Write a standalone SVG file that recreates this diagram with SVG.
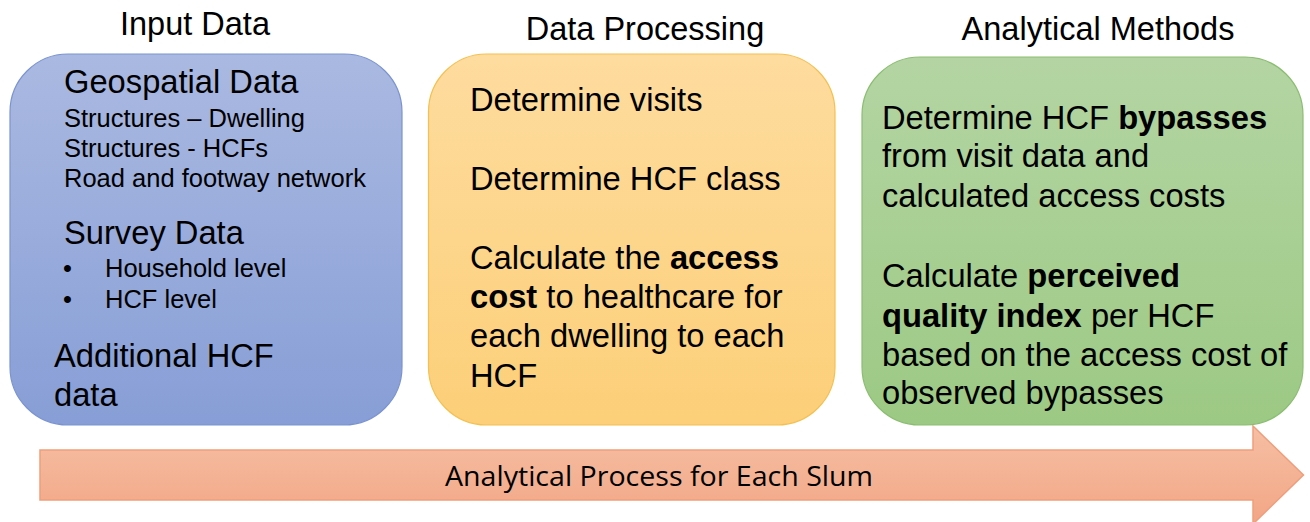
<svg xmlns="http://www.w3.org/2000/svg" width="1310" height="522" viewBox="0 0 1310 522">
<defs>
<linearGradient id="gBlue" x1="0" y1="0" x2="0" y2="1"><stop offset="0" stop-color="#aab9e1"/><stop offset="1" stop-color="#879ed6"/></linearGradient>
<linearGradient id="gOrange" x1="0" y1="0" x2="0" y2="1"><stop offset="0" stop-color="#fedc9f"/><stop offset="1" stop-color="#fccf78"/></linearGradient>
<linearGradient id="gGreen" x1="0" y1="0" x2="0" y2="1"><stop offset="0" stop-color="#b4d5a3"/><stop offset="1" stop-color="#9cc984"/></linearGradient>
<linearGradient id="gArrow" x1="0" y1="0" x2="0" y2="1"><stop offset="0" stop-color="#f6bfa4"/><stop offset="1" stop-color="#f2a685"/></linearGradient>
</defs>
<style>
text{font-family:"Liberation Sans",Arial,sans-serif;fill:#000}
.h{font-size:32.5px;text-anchor:middle}
.big{font-size:32.7px}
.sm{font-size:25.5px}
.b{font-weight:bold}
</style>
<rect width="1310" height="522" fill="#fff"/>
<g id="connectors">
<path d="M40 450 H1253 V426 L1303.5 475 L1253 524 V500 H40 Z" fill="url(#gArrow)" stroke="#ef9e7b" stroke-width="1.5"/>
<text x="659" y="486" style="font-family:'Open Sans',sans-serif;font-size:27px" text-anchor="middle" textLength="428" lengthAdjust="spacingAndGlyphs">Analytical Process for Each Slum</text>
</g>
<g id="input-data">
<text class="h" x="195" y="35">Input Data</text>
<rect x="10" y="54" width="392" height="371" rx="58" ry="58" fill="url(#gBlue)" stroke="#7a93d0" stroke-width="1.2"/>
<text class="big" x="64" y="93">Geospatial Data</text>
<text class="sm" x="64" y="127">Structures – Dwelling</text>
<text class="sm" x="64" y="157">Structures - HCFs</text>
<text class="sm" x="64" y="187">Road and footway network</text>
<text class="big" x="64" y="244">Survey Data</text>
<text class="sm" x="63" y="277">•</text>
<text class="sm" x="105" y="277">Household level</text>
<text class="sm" x="63" y="308">•</text>
<text class="sm" x="105" y="308">HCF level</text>
<text class="big" x="54" y="367">Additional HCF</text>
<text class="big" x="54" y="406">data</text>
</g>
<g id="data-processing">
<text class="h" x="645" y="39.5">Data Processing</text>
<rect x="428.5" y="54" width="406.5" height="371" rx="58" ry="58" fill="url(#gOrange)" stroke="#f4c04f" stroke-width="1.2"/>
<text class="big" x="470" y="111">Determine visits</text>
<text class="big" x="470" y="190">Determine HCF class</text>
<text class="big" x="470" y="269">Calculate the <tspan class="b">access</tspan></text>
<text class="big" x="470" y="308"><tspan class="b">cost</tspan> to healthcare for</text>
<text class="big" x="470" y="347">each dwelling to each</text>
<text class="big" x="470" y="387">HCF</text>
</g>
<g id="analytical-methods">
<text class="h" x="1098" y="39.5">Analytical Methods</text>
<rect x="862" y="57" width="441" height="368" rx="58" ry="58" fill="url(#gGreen)" stroke="#8bbd71" stroke-width="1.2"/>
<text class="big" x="882" y="128.5">Determine HCF <tspan class="b">bypasses</tspan></text>
<text class="big" x="882" y="167">from visit data and</text>
<text class="big" x="882" y="207">calculated access costs</text>
<text class="big" x="882" y="287">Calculate <tspan class="b">perceived</tspan></text>
<text class="big" x="882" y="327"><tspan class="b">quality index</tspan> per HCF</text>
<text class="big" x="882" y="365.5">based on the access cost of</text>
<text class="big" x="882" y="404">observed bypasses</text>
</g>
</svg>
